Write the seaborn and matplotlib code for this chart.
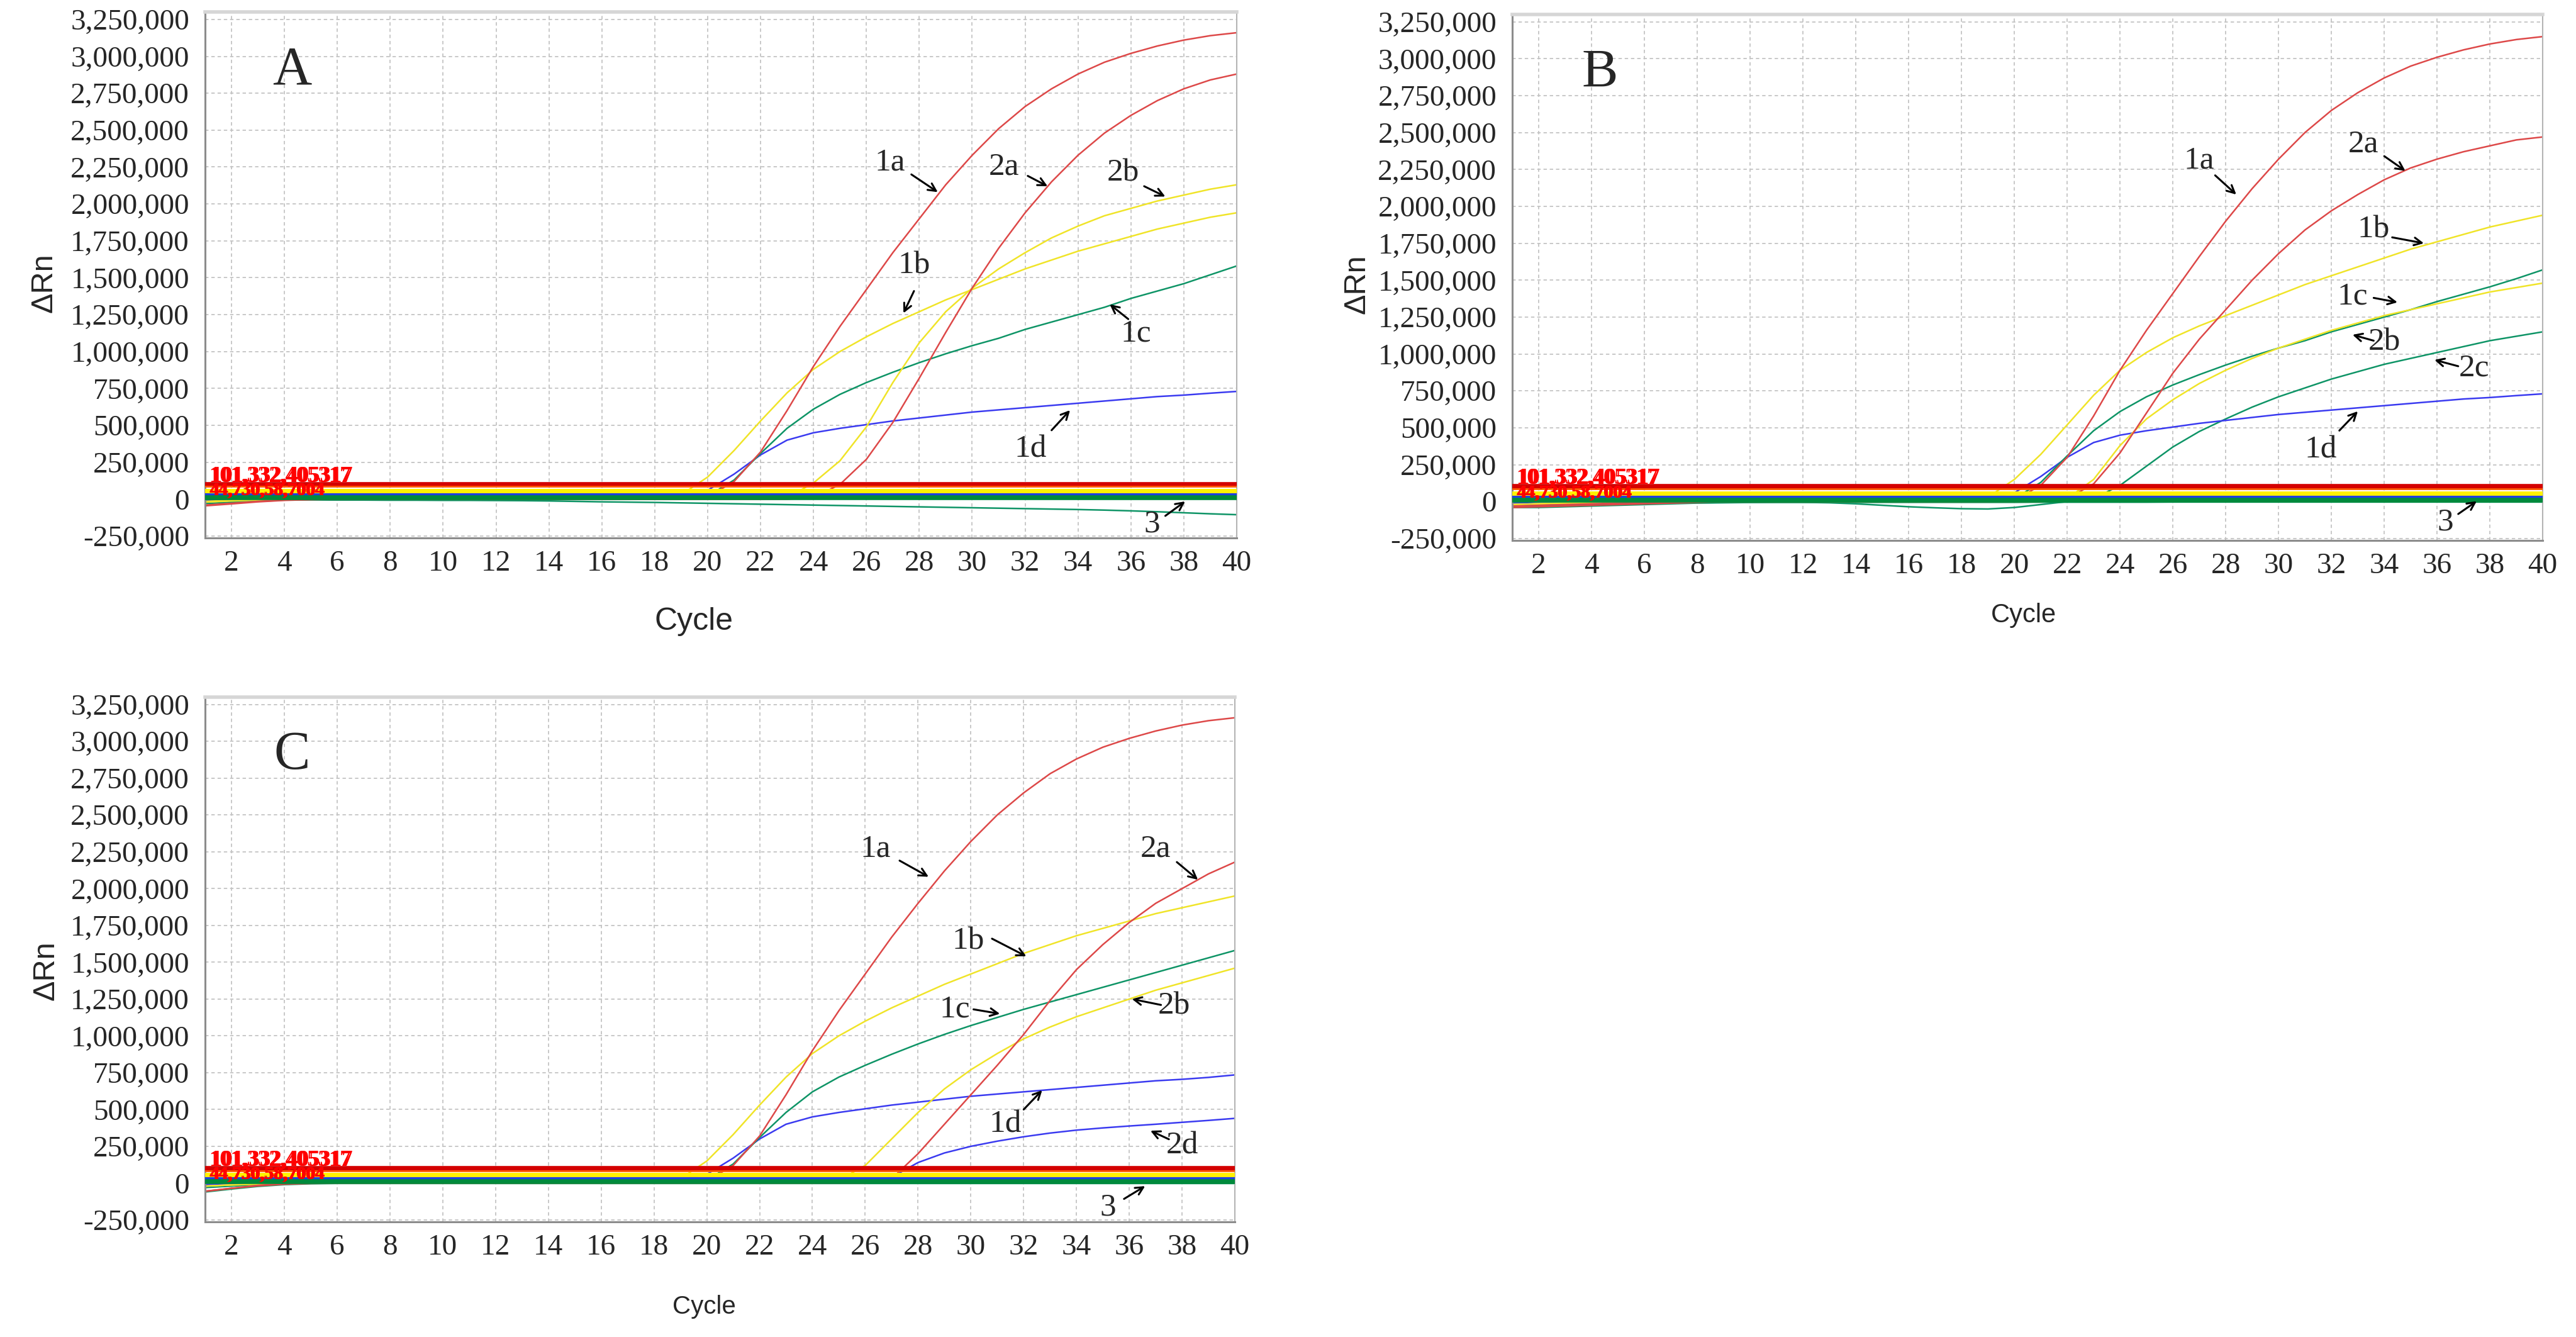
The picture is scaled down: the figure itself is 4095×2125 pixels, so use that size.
import numpy as np
import pandas as pd
import matplotlib.pyplot as plt
import seaborn as sns
from matplotlib.ticker import FuncFormatter, MultipleLocator

# cycle numbers on the x axis
cycles = list(range(1, 41))

# ---- panel A (delta Rn per cycle) ----
a_1a = [-45000, -32000, -18000, -8000, -3000, 0, 0, 0, 0, 0, 0, 0, 0, 0, 0, 0, 0, 0, 2000, 15000,
        120000, 320000, 600000, 900000, 1170000, 1420000, 1670000, 1900000, 2130000, 2330000,
        2510000, 2660000, 2780000, 2880000, 2960000, 3020000, 3070000, 3110000, 3140000, 3160000]
a_2a = [-40000, -28000, -15000, -6000, -2000, 0, 0, 0, 0, 0, 0, 0, 0, 0, 0, 0, 0, 0, 0, 0,
        0, 0, 0, 10000, 100000, 270000, 520000, 820000, 1130000, 1430000,
        1700000, 1940000, 2150000, 2330000, 2480000, 2600000, 2700000, 2780000, 2840000, 2880000]
a_1b = [-20000, -12000, -6000, -2000, 0, 0, 0, 0, 0, 0, 0, 0, 0, 0, 0, 0, 0, 0, 30000, 150000,
        330000, 530000, 720000, 880000, 1000000, 1100000, 1190000, 1270000, 1350000, 1420000,
        1490000, 1560000, 1620000, 1680000, 1730000, 1780000, 1830000, 1870000, 1910000, 1940000]
a_2b = [-15000, -8000, -3000, 0, 0, 0, 0, 0, 0, 0, 0, 0, 0, 0, 0, 0, 0, 0, 0, 0,
        0, 0, 10000, 110000, 260000, 490000, 790000, 1060000, 1270000, 1430000,
        1560000, 1670000, 1770000, 1850000, 1920000, 1970000, 2020000, 2060000, 2100000, 2130000]
a_1c = [-30000, -20000, -10000, -4000, 0, 0, 0, 0, 0, 0, 0, 0, 0, 0, 0, 0, 0, 0, 0, 20000,
        130000, 310000, 480000, 610000, 710000, 790000, 860000, 925000, 985000, 1040000,
        1090000, 1150000, 1200000, 1250000, 1300000, 1360000, 1410000, 1460000, 1520000, 1580000]
a_1d = [-10000, -5000, 0, 0, 0, 0, 0, 0, 0, 0, 0, 0, 0, 0, 0, 0, 0, 0, 20000, 60000,
        170000, 300000, 400000, 450000, 480000, 505000, 530000, 550000, 570000, 590000,
        605000, 620000, 635000, 650000, 665000, 680000, 695000, 705000, 718000, 730000]
a_3 = [-5000, -5000, -5000, -5000, -5000, -6000, -6000, -7000, -7000, -8000,
       -8000, -9000, -10000, -12000, -15000, -18000, -20000, -22000, -25000, -28000,
       -31000, -34000, -37000, -40000, -43000, -46000, -49000, -52000, -55000, -58000,
       -61000, -64000, -67000, -70000, -74000, -79000, -85000, -92000, -99000, -105000]

# ---- panel B ----
b_1a = [-40000, -35000, -30000, -25000, -20000, -15000, -10000, -5000, 0, 0, 0, 0, 0, 0, 0, 0, 0, 0, 0, 10000,
        110000, 300000, 580000, 890000, 1160000, 1410000, 1660000, 1900000, 2120000, 2320000,
        2500000, 2650000, 2770000, 2870000, 2950000, 3010000, 3060000, 3100000, 3130000, 3150000]
b_2a = [-30000, -25000, -20000, -15000, -10000, -5000, 0, 0, 0, 0, 0, 0, 0, 0, 0, 0, 0, 0, 0, 0,
        0, 20000, 120000, 330000, 600000, 870000, 1100000, 1300000, 1500000, 1680000,
        1840000, 1970000, 2080000, 2180000, 2260000, 2320000, 2370000, 2410000, 2450000, 2470000]
b_1b = [-20000, -15000, -10000, -5000, 0, 0, 0, 0, 0, 0, 0, 0, 0, 0, 0, 0, 0, 0, 30000, 150000,
        320000, 520000, 720000, 890000, 1010000, 1110000, 1190000, 1260000, 1330000, 1400000,
        1470000, 1530000, 1590000, 1650000, 1710000, 1760000, 1810000, 1860000, 1900000, 1940000]
b_2b = [-20000, -15000, -10000, -5000, 0, 0, 0, 0, 0, 0, 0, 0, 0, 0, 0, 0, 0, 0, 0, 0,
        0, 20000, 150000, 380000, 560000, 690000, 800000, 890000, 970000, 1040000,
        1100000, 1160000, 1210000, 1260000, 1300000, 1340000, 1380000, 1420000, 1450000, 1480000]
b_1c = [-30000, -20000, -10000, -4000, 0, 0, 0, 0, 0, 0, 0, 0, 0, 0, 0, 0, 0, 0, 0, 20000,
        130000, 310000, 480000, 610000, 710000, 790000, 860000, 925000, 985000, 1040000,
        1090000, 1150000, 1200000, 1250000, 1300000, 1355000, 1405000, 1455000, 1510000, 1570000]
b_2c = [-40000, -40000, -35000, -30000, -25000, -20000, -15000, -10000, -8000, -6000,
        -5000, -5000, -8000, -15000, -25000, -35000, -42000, -48000, -50000, -40000,
        -20000, 0, 20000, 110000, 240000, 370000, 475000, 560000, 640000, 710000,
        770000, 830000, 880000, 930000, 970000, 1010000, 1050000, 1090000, 1120000, 1150000]
b_1d = [-10000, -5000, 0, 0, 0, 0, 0, 0, 0, 0, 0, 0, 0, 0, 0, 0, 0, 0, 20000, 60000,
        170000, 300000, 400000, 450000, 480000, 505000, 530000, 550000, 570000, 590000,
        605000, 620000, 635000, 650000, 665000, 680000, 695000, 705000, 718000, 730000]
b_3 = [-35000, -30000, -25000, -20000, -15000, -12000, -10000, -8000, -6000, -5000,
       -5000, -5000, -5000, -5000, -5000, -5000, -5000, -5000, -5000, -5000,
       -4000, -4000, -4000, -4000, -4000, -3000, -3000, -3000, -3000, -3000,
       -3000, -3000, -3000, -3000, -3000, -3000, -3000, -3000, -3000, -3000]

# ---- panel C ----
c_1a = [-55000, -35000, -18000, -7000, -2000, 0, 0, 0, 0, 0, 0, 0, 0, 0, 0, 0, 0, 0, 2000, 15000,
        120000, 320000, 600000, 900000, 1170000, 1420000, 1670000, 1900000, 2120000, 2320000,
        2500000, 2650000, 2780000, 2880000, 2960000, 3020000, 3070000, 3110000, 3140000, 3160000]
c_2a = [-55000, -35000, -15000, -5000, 0, 0, 0, 0, 0, 0, 0, 0, 0, 0, 0, 0, 0, 0, 0, 0,
        0, 0, 0, 0, 0, 0, 30000, 200000, 400000, 600000,
        800000, 1010000, 1240000, 1450000, 1620000, 1770000, 1900000, 2000000, 2100000, 2180000]
c_1b = [-20000, -12000, -6000, -2000, 0, 0, 0, 0, 0, 0, 0, 0, 0, 0, 0, 0, 0, 0, 30000, 150000,
        330000, 530000, 720000, 880000, 1000000, 1100000, 1190000, 1270000, 1350000, 1420000,
        1490000, 1560000, 1620000, 1680000, 1730000, 1780000, 1830000, 1870000, 1910000, 1950000]
c_2b = [-20000, -12000, -6000, -2000, 0, 0, 0, 0, 0, 0, 0, 0, 0, 0, 0, 0, 0, 0, 0, 0,
        0, 0, 0, 0, 20000, 120000, 300000, 480000, 640000, 770000,
        880000, 980000, 1060000, 1130000, 1190000, 1250000, 1310000, 1360000, 1410000, 1460000]
c_1c = [-30000, -20000, -10000, -4000, 0, 0, 0, 0, 0, 0, 0, 0, 0, 0, 0, 0, 0, 0, 0, 20000,
        130000, 310000, 480000, 620000, 720000, 800000, 875000, 945000, 1010000, 1070000,
        1125000, 1180000, 1230000, 1280000, 1330000, 1380000, 1430000, 1480000, 1530000, 1580000]
c_1d = [-10000, -5000, 0, 0, 0, 0, 0, 0, 0, 0, 0, 0, 0, 0, 0, 0, 0, 0, 25000, 60000,
        170000, 300000, 400000, 450000, 480000, 505000, 530000, 550000, 570000, 590000,
        605000, 620000, 635000, 650000, 665000, 680000, 695000, 705000, 718000, 735000]
c_2d = [-10000, -5000, 0, 0, 0, 0, 0, 0, 0, 0, 0, 0, 0, 0, 0, 0, 0, 0, 0, 0,
        0, 0, 0, 0, 0, 15000, 40000, 140000, 205000, 250000,
        285000, 315000, 340000, 360000, 375000, 388000, 400000, 413000, 426000, 440000]
c_3 = [-60000, -40000, -22000, -10000, -4000, -2000, -2000, -2000, -2000, -2000,
       -2000, -2000, -2000, -2000, -2000, -2000, -2000, -2000, -2000, -2000,
       -2000, -2000, -2000, -2000, -2000, -2000, -2000, -2000, -2000, -2000,
       -2000, -2000, -2000, -2000, -2000, -2000, -2000, -2000, -2000, -2000]

# threshold lines (same in every panel)
thr_values = [101332, 85000, 58000, 32000, 9000]
thr_colors = ["#d40000", "#ff5a00", "#fff200", "#1f3fe0", "#008a3c"]
thr_widths = [5.5, 2.0, 5.0, 3.0, 5.5]

RED, YEL, GRN, BLU = "#dd4848", "#f0e428", "#0e9466", "#3a3af0"

# label, text position, arrow start, arrow end
notes_a = [("1a", (26.9, 2280000), (27.7, 2200000), (28.7, 2080000)),
           ("2a", (31.2, 2250000), (32.1, 2190000), (32.85, 2120000)),
           ("2b", (35.7, 2210000), (36.5, 2120000), (37.3, 2050000)),
           ("1b", (27.8, 1580000), (27.8, 1410000), (27.4, 1260000)),
           ("1c", (36.2, 1120000), (35.9, 1220000), (35.2, 1320000)),
           ("1d", (32.2, 336000), (33.0, 467000), (33.7, 603000)),
           ("3", (36.8, -170000), (37.3, -113000), (38.05, -15000))]
notes_b = [("1a", (27.0, 2310000), (27.6, 2210000), (28.4, 2080000)),
           ("2a", (33.2, 2420000), (34.0, 2340000), (34.8, 2240000)),
           ("1b", (33.6, 1840000), (34.3, 1790000), (35.5, 1750000)),
           ("1c", (32.8, 1390000), (33.6, 1380000), (34.5, 1350000)),
           ("2b", (34.0, 1080000), (33.6, 1090000), (32.8, 1130000)),
           ("2c", (37.4, 902000), (36.8, 917000), (35.9, 960000)),
           ("1d", (31.6, 351000), (32.3, 481000), (33.0, 612000)),
           ("3", (36.3, -142000), (36.8, -84000), (37.5, 3000))]
notes_c = [("1a", (26.4, 2270000), (27.3, 2190000), (28.4, 2080000)),
           ("2a", (37.0, 2270000), (37.8, 2180000), (38.6, 2060000)),
           ("1b", (29.9, 1640000), (30.8, 1660000), (32.1, 1540000)),
           ("1c", (29.4, 1180000), (30.1, 1180000), (31.1, 1150000)),
           ("2b", (37.7, 1200000), (37.2, 1210000), (36.1, 1250000)),
           ("1d", (31.3, 400000), (32.0, 500000), (32.7, 631000)),
           ("2d", (38.0, 255000), (37.5, 298000), (36.8, 356000)),
           ("3", (35.2, -165000), (35.8, -107000), (36.6, -20000))]

sns.set_style("white")
plt.rcParams["font.family"] = ["Liberation Serif", "DejaVu Serif"]

fig = plt.figure(figsize=(40.95, 21.25), dpi=100)
ax_a = fig.add_axes([0.0796, 0.5976, 0.4005, 0.3934])
ax_b = fig.add_axes([0.5871, 0.5958, 0.4000, 0.3934])
ax_c = fig.add_axes([0.0796, 0.0861, 0.3998, 0.3925])


def draw_panel(ax, curves, palette, notes, letter):
    rows = []
    for name, vals in curves.items():
        for c, v in zip(cycles, vals):
            rows.append((name, c, v))
    df = pd.DataFrame(rows, columns=["curve", "cycle", "drn"])
    sns.lineplot(data=df, x="cycle", y="drn", hue="curve", palette=palette,
                 estimator=None, legend=False, linewidth=1.8, ax=ax, zorder=2)

    for y, col, lw in zip(thr_values, thr_colors, thr_widths):
        ax.axhline(y, color=col, lw=lw, zorder=3)

    # overprinted threshold values, as in the instrument export
    for dx in (0.0, 0.07):
        ax.text(1.15 + dx, 122000, "101,332,405317", color="red", fontsize=25,
                fontweight="bold", va="baseline", zorder=4)
    for dx in (0.0, 0.06):
        ax.text(1.15 + dx, 32000, "44,730,58,7004", color="red", fontsize=21,
                fontweight="bold", va="baseline", zorder=4)

    for label, txt, start, end in notes:
        ax.text(txt[0], txt[1], label, fontsize=37, ha="center", va="center", zorder=5)
        ax.annotate("", xy=end, xytext=start, zorder=5,
                    arrowprops=dict(arrowstyle="->", color="black", lw=2.2,
                                    mutation_scale=22, shrinkA=0, shrinkB=0))

    ax.text(4.3, 2900000, letter, fontsize=62, ha="center", va="center")

    ax.set_xlim(1, 40)
    ax.set_ylim(-263000, 3300000)
    ax.xaxis.set_major_locator(MultipleLocator(2))
    ax.xaxis.set_minor_locator(MultipleLocator(1))
    ax.yaxis.set_major_locator(MultipleLocator(250000))
    ax.yaxis.set_major_formatter(FuncFormatter(lambda v, p: f"{int(round(v)):,}"))
    ax.set_xlabel("")
    ax.set_ylabel("")

    ax.set_axisbelow(True)
    ax.grid(True, which="major", color="#c4c4c4", linestyle=(0, (3, 2.5)), lw=1.3)
    ax.tick_params(axis="both", which="major", direction="out", length=5, width=1.8,
                   color="#8c8c8c", labelsize=34)
    ax.tick_params(axis="x", which="major", pad=9)
    ax.tick_params(axis="y", which="major", pad=13)
    ax.tick_params(axis="x", which="minor", direction="out", length=2.5, width=1.2,
                   color="#a0a0a0")
    ax.spines["left"].set_color("#8c8c8c")
    ax.spines["bottom"].set_color("#8c8c8c")
    ax.spines["left"].set_linewidth(2.2)
    ax.spines["bottom"].set_linewidth(2.2)
    ax.spines["top"].set_color("#d6d6d6")
    ax.spines["top"].set_linewidth(4)
    ax.spines["right"].set_color("#b4b4b4")
    ax.spines["right"].set_linewidth(1.5)


draw_panel(ax_a,
           {"3": a_3, "1d": a_1d, "1c": a_1c, "2b": a_2b, "1b": a_1b, "2a": a_2a, "1a": a_1a},
           {"3": GRN, "1d": BLU, "1c": GRN, "2b": YEL, "1b": YEL, "2a": RED, "1a": RED},
           notes_a, "A")
draw_panel(ax_b,
           {"3": b_3, "2c": b_2c, "1d": b_1d, "1c": b_1c, "2b": b_2b, "1b": b_1b, "2a": b_2a, "1a": b_1a},
           {"3": GRN, "2c": GRN, "1d": BLU, "1c": GRN, "2b": YEL, "1b": YEL, "2a": RED, "1a": RED},
           notes_b, "B")
draw_panel(ax_c,
           {"3": c_3, "2d": c_2d, "1d": c_1d, "1c": c_1c, "2b": c_2b, "1b": c_1b, "2a": c_2a, "1a": c_1a},
           {"3": GRN, "2d": BLU, "1d": BLU, "1c": GRN, "2b": YEL, "1b": YEL, "2a": RED, "1a": RED},
           notes_c, "C")

sans = ["Liberation Sans", "DejaVu Sans"]
fig.text(0.2694, 0.5351, "Cycle", fontsize=36, family=sans, ha="center", va="center")
fig.text(0.7856, 0.5398, "Cycle", fontsize=30, family=sans, ha="center", va="center")
fig.text(0.2733, 0.0226, "Cycle", fontsize=29, family=sans, ha="center", va="center")
for x, y in [(0.0171, 0.7882), (0.5267, 0.7873), (0.0178, 0.2739)]:
    fig.text(x, y, "ΔRn", fontsize=35, family=sans, rotation=90, ha="center", va="center")

fig.savefig("out.png", dpi=100, facecolor="white")
